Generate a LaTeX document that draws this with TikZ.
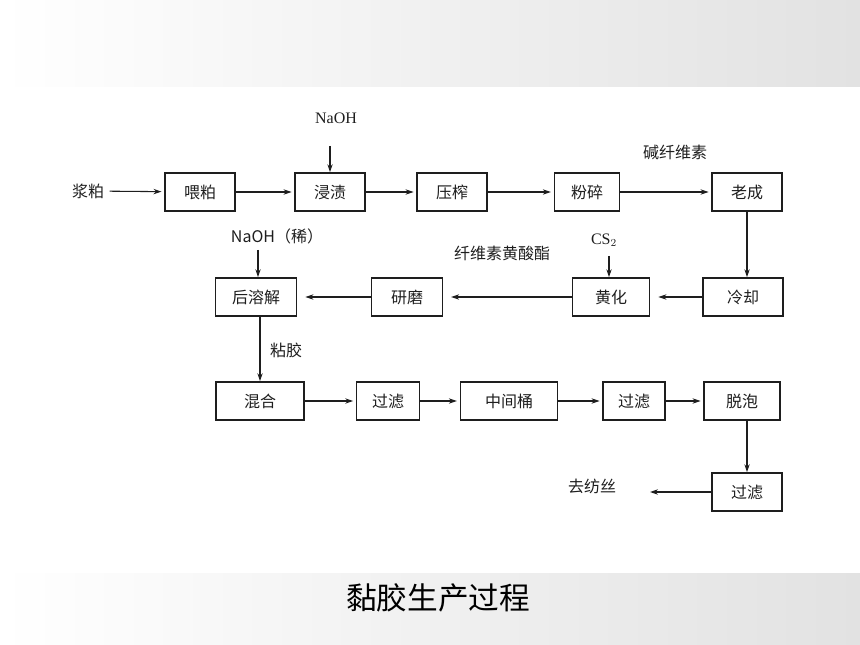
\documentclass[tikz,border=0pt]{standalone}
\usepackage{fontspec}
\setmainfont{Liberation Serif}
\newfontfamily\cjk{Noto Sans CJK SC}
\usepackage{xcolor}
\usetikzlibrary{arrows.meta,positioning,calc}

\definecolor{ink}{HTML}{1E1E1E}
\definecolor{band}{HTML}{E2E2E2}

\begin{document}
\begin{tikzpicture}[x=0.75pt,y=-0.75pt,
    box/.style={draw=ink,line width=1.2pt,minimum height=28.5pt,inner sep=0pt,text=ink,
        font=\cjk\fontsize{12}{12}\selectfont},
    lbl/.style={text=ink,inner sep=1pt,font=\cjk\fontsize{12}{12}\selectfont},
    chem/.style={text=ink,inner sep=1pt,font=\fontsize{12}{12}\selectfont},
    flow/.style={ink,line width=0.8pt,shorten >=2pt,-{Stealth[length=6pt,width=4pt]}}]
    \useasboundingbox (0,0) rectangle (860,645);

    % Bands
    \shade[left color=white,right color=band] (0,0) rectangle (860,87);
    \shade[left color=white,right color=band] (0,573) rectangle (860,645);

    % Row 1
    \node[lbl] (pulp) at (88,191) {浆粕};
    \node[box,minimum width=52.5pt] (feed) at (200,192) {喂粕};
    \node[box,minimum width=52.5pt] (steep) at (330,192) {浸渍};
    \node[box,minimum width=52.5pt] (press) at (452,192) {压榨};
    \node[box,minimum width=49pt] (crush) at (587,192) {粉碎};
    \node[box,minimum width=52.5pt] (age) at (747,192) {老成};
    \node[chem] (naoh) at (336,118) {NaOH};
    \coordinate (naohin) at (330,146);
    \node[lbl] (alkali) at (675,152) {碱纤维素};

    % Row 2
    \node[box,minimum width=61pt] (redis) at (256,297) {后溶解};
    \node[box,minimum width=53pt] (grind) at (407,297) {研磨};
    \node[box,minimum width=58pt] (xanth) at (611,297) {黄化};
    \node[box,minimum width=60pt] (cool) at (743,297) {冷却};
    \node[lbl] (dilute) at (277,236) {NaOH（稀）};
    \coordinate (dilin) at (258,250);
    \node[chem] (cs) at (604,240) {CS$_2$};
    \coordinate (csin) at (609,256);
    \node[lbl] (ester) at (502,253) {纤维素黄酸酯};

    % Row 3
    \node[box,minimum width=66pt] (mix) at (260,401) {混合};
    \node[box,minimum width=47pt] (filta) at (388,401) {过滤};
    \node[box,minimum width=73pt] (tank) at (509,401) {中间桶};
    \node[box,minimum width=46.5pt] (filtb) at (634,401) {过滤};
    \node[box,minimum width=57pt] (degas) at (742,401) {脱泡};
    \node[lbl] (viscose) at (286,350) {粘胶};

    % Row 4
    \node[box,minimum width=52.5pt] (filtc) at (747,492) {过滤};
    \node[lbl] (spin) at (592,486) {去纺丝};
    \coordinate (spinin) at (650,492);

    % Connectors
    \draw[flow,shorten <=3pt] (pulp) -- (feed);
    \foreach \a/\b in {feed/steep,steep/press,press/crush,crush/age}
        \draw[flow] (\a) -- (\b);
    \draw[flow,shorten >=0pt] (naohin) -- (steep.north);
    \draw[flow,shorten >=0pt] (age.south) -- (age.south |- cool.north);
    \foreach \a/\b in {cool/xanth,xanth/grind,grind/redis}
        \draw[flow,shorten >=6pt] (\a) -- (\b);
    \draw[flow,shorten >=0pt] (dilin) -- (dilin |- redis.north);
    \draw[flow,shorten >=0pt] (csin) -- (csin |- xanth.north);
    \draw[flow,shorten >=0pt] (mix.north |- redis.south) -- (mix.north);
    \foreach \a/\b in {mix/filta,filta/tank,tank/filtb,filtb/degas}
        \draw[flow] (\a) -- (\b);
    \draw[flow,shorten >=0pt] (filtc.north |- degas.south) -- (filtc.north);
    \draw[flow,shorten >=0pt] (filtc) -- (spinin);

    % Caption
    \node[font=\cjk\fontsize{23}{23}\selectfont] (title) at (438,598) {黏胶生产过程};
\end{tikzpicture}
\end{document}
